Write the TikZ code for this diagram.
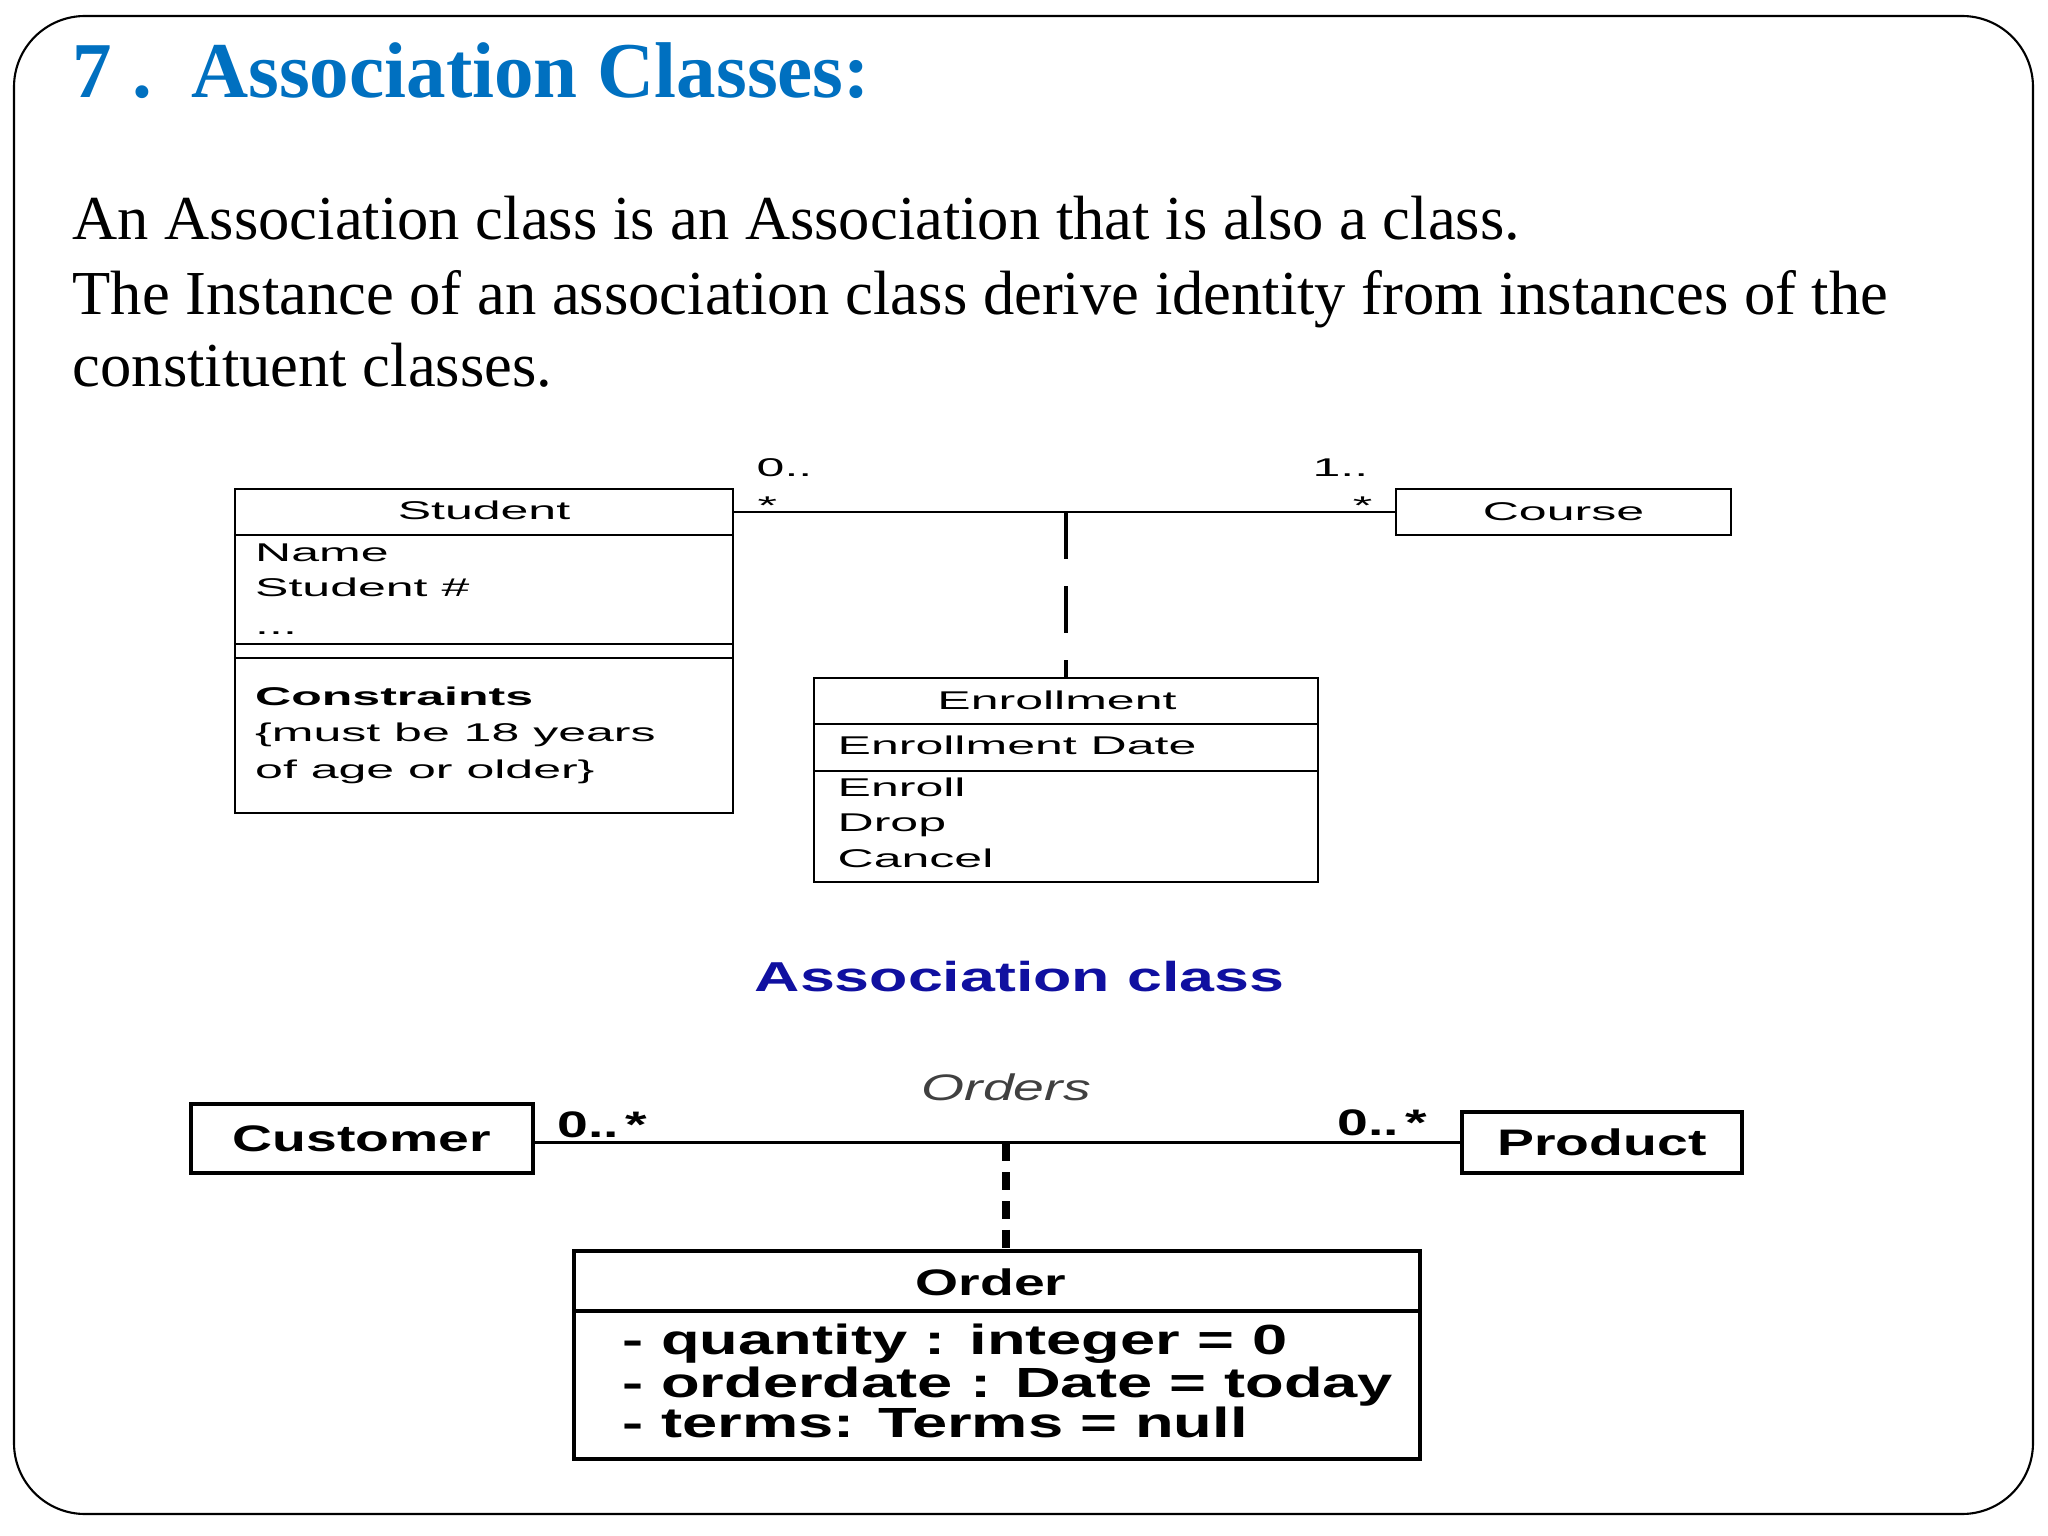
\documentclass[tikz,border=0pt]{standalone}
\usepackage{fontspec}
\setmainfont{Liberation Serif}
\newfontfamily\umlfont{Liberation Sans}[FakeStretch=1.95]
\newfontfamily\umlgras{Liberation Sans}[FakeStretch=1.5]
\definecolor{titrebleu}{RGB}{0,112,192}
\definecolor{legendebleu}{RGB}{16,16,160}

\begin{document}
\begin{tikzpicture}

  % Style des boxes et des textes
  \tikzstyle{classe} = [draw, line width=0.7pt, inner sep=0pt, font={\umlfont\fontsize{7.3}{9}\selectfont}]
  \tikzstyle{classegras} = [draw, line width=1.1pt, inner sep=0pt, font={\umlgras\bfseries\fontsize{10.5}{12}\selectfont}]
  \tikzstyle{texte} = [anchor=base west, inner sep=0pt, font={\umlfont\fontsize{7.3}{9}\selectfont}]
  \tikzstyle{textegras} = [anchor=base west, inner sep=0pt, font={\umlgras\bfseries\fontsize{10.5}{12}\selectfont}]
  \tikzstyle{attribut} = [anchor=base west, inner sep=0pt, font={\umlgras\bfseries\fontsize{12}{13}\selectfont}]
  \tikzstyle{lien} = [line width=0.7pt]

  \useasboundingbox (0,0) rectangle (20.48,-15.36);

  % Cadre
  \draw[line width=0.6pt, rounded corners=0.71cm] (0.14,-0.16) rectangle (20.33,-15.14);

  % Titre et texte
  \node[anchor=base west, inner sep=0pt, text=titrebleu, font={\fontsize{22.5}{26}\selectfont\bfseries}] (titre) at (0.72,-0.98) {7 .\ \ Association Classes:};
  \node[anchor=base west, inner sep=0pt, font={\fontsize{17.8}{21}\selectfont}] (ligneA) at (0.72,-2.40) {An Association class is an Association that is also a class.};
  \node[anchor=base west, inner sep=0pt, font={\fontsize{17.8}{21}\selectfont}] (ligneB) at (0.72,-3.15) {The Instance of an association class derive identity from instances of the};
  \node[anchor=base west, inner sep=0pt, font={\fontsize{17.8}{21}\selectfont}] (ligneC) at (0.72,-3.87) {constituent classes.};

  % Student -- Course
  \node[classe, minimum width=4.98cm, minimum height=3.24cm] (student) at (4.84,-6.51) {};
  \node[classe, minimum width=3.35cm, minimum height=0.46cm] (course) at (15.635,-5.12) {Course};
  \node[classe, minimum width=5.04cm, minimum height=2.04cm] (enroll) at (10.66,-7.80) {};

  \draw[lien] (student.west |- 0,-5.35) -- (student.east |- 0,-5.35);
  \draw[lien] (student.west |- 0,-6.44) -- (student.east |- 0,-6.44);
  \draw[lien] (student.west |- 0,-6.58) -- (student.east |- 0,-6.58);
  \draw[lien] (enroll.west |- 0,-7.24) -- (enroll.east |- 0,-7.24);
  \draw[lien] (enroll.west |- 0,-7.71) -- (enroll.east |- 0,-7.71);

  \node[texte, anchor=base] (nomS) at (4.84,-5.20) {Student};
  \node[texte] (attrSA) at (2.545,-5.61) {Name};
  \node[texte] (attrSB) at (2.545,-5.97) {Student \#};
  \node[texte] (attrSC) at (2.545,-6.34) {...};
  \node[texte, font={\umlfont\bfseries\fontsize{7.3}{9}\selectfont}] (contrainte) at (2.545,-7.06) {Constraints};
  \node[texte] (contrA) at (2.545,-7.42) {\{must be 18 years};
  \node[texte] (contrB) at (2.545,-7.79) {of age or older\}};

  \node[texte, anchor=base] (nomE) at (10.57,-7.09) {Enrollment};
  \node[texte] (attrE) at (8.37,-7.55) {Enrollment Date};
  \node[texte] (opEA) at (8.37,-7.97) {Enroll};
  \node[texte] (opEB) at (8.37,-8.31) {Drop};
  \node[texte] (opEC) at (8.37,-8.68) {Cancel};

  % association et multiplicites
  \draw[lien] (student.east |- course.west) -- (course.west);
  \draw[lien, line width=0.9pt, dash pattern=on 13.4pt off 7.7pt] (enroll.north |- course.west) -- (enroll.north);
  \node[texte] (multA) at (7.56,-4.77) {0..};
  \node[texte] (etoileA) at (7.57,-5.15) {*};
  \node[texte, anchor=base east] (multB) at (13.69,-4.77) {1..};
  \node[texte, anchor=base east] (etoileB) at (13.73,-5.15) {*};

  % Legende
  \node[anchor=base west, inner sep=0pt, text=legendebleu, font={\umlgras\bfseries\fontsize{11.9}{14}\selectfont}] (legende) at (7.54,-9.92) {Association class};

  % Customer -- Product
  \node[classegras, minimum width=3.42cm, minimum height=0.69cm] (customer) at (3.62,-11.385) {Customer};
  \node[classegras, minimum width=2.80cm, minimum height=0.61cm] (product) at (16.02,-11.425) {Product};
  \node[classegras, minimum width=8.46cm, minimum height=2.08cm] (order) at (9.97,-13.55) {};
  \draw[line width=1.1pt] (order.west |- 0,-13.11) -- (order.east |- 0,-13.11);

  \draw[line width=0.8pt] (customer.east |- product.west) -- (product.west);
  \coordinate (milieu) at (10.06,-11.435);
  \draw[line width=2pt, dash pattern=on 5.1pt off 3.1pt] (milieu) -- (milieu |- order.north);

  \node[textegras] (multC) at (5.57,-11.37) {0..\,*};
  \node[textegras] (multD) at (13.37,-11.35) {0..\,*};
  \node[anchor=base west, inner sep=0pt, text=black!75, font={\umlgras\itshape\fontsize{10.5}{12}\selectfont}] (orders) at (9.21,-11.00) {Orders};

  \node[textegras, anchor=base] (nomO) at (9.91,-12.95) {Order};
  \node[attribut] (attrOA) at (6.22,-13.54) {- quantity : integer = 0};
  \node[attribut] (attrOB) at (6.22,-13.97) {- orderdate : Date = today};
  \node[attribut] (attrOC) at (6.22,-14.37) {- terms: Terms = null};

\end{tikzpicture}
\end{document}
